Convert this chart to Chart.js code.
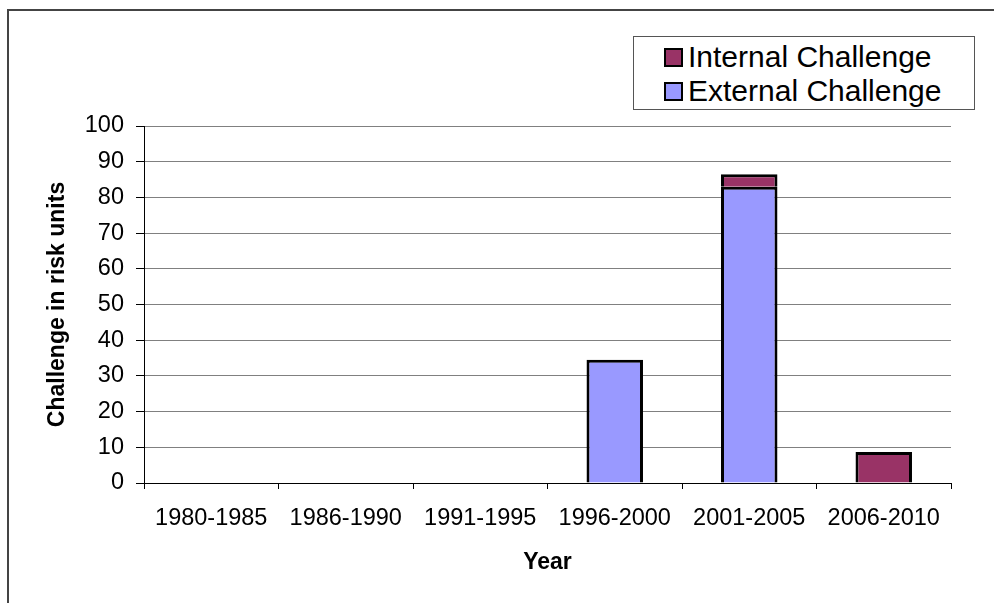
<!DOCTYPE html>
<html>
<head>
<meta charset="utf-8">
<script src="https://cdn.jsdelivr.net/npm/chart.js@4"></script>
<style>
  body { margin: 0; background: #fff; overflow: hidden; }
  #wrap { position: relative; width: 994px; height: 603px; }
  #frame { position: absolute; left: 7px; top: 9px; width: 1100px; height: 700px; border: 2px solid #444; border-right: none; border-bottom: none; }
  #chart-box { position: absolute; left: 0; top: 0; width: 994px; height: 603px; }
  #legend { position: absolute; left: 633px; top: 36px; width: 340px; height: 72px; border: 1px solid #555; background: #fff;
            font-family: "Liberation Sans", Arial, sans-serif; font-size: 30px; color: #000; }
  .leg-item { position: absolute; left: 30px; height: 34px; line-height: 34px; white-space: nowrap; }
  .leg-sw { display: inline-block; width: 15px; height: 15px; border: 2px solid #000; vertical-align: middle; margin-right: 5px; position: relative; top: -2px; }
</style>
</head>
<body>
<div id="wrap">
  <div id="frame"></div>
  <div id="chart-box"><canvas id="riskChart"></canvas></div>
  <div id="legend"></div>
</div>
<script>
// chart data
const categories = ['1980-1985', '1986-1990', '1991-1995', '1996-2000', '2001-2005', '2006-2010'];
const externalValues = [0, 0, 0, 34.5, 83, 0];
const internalValues = [0, 0, 0, 0, 3.5, 8.7];
const seriesNames = ['External Challenge', 'Internal Challenge'];
const seriesColors = ['#9999FF', '#993366'];

const fontFamily = '"Liberation Sans", Arial, sans-serif';

const ctx = document.getElementById('riskChart').getContext('2d');
const riskChart = new Chart(ctx, {
  type: 'bar',
  data: {
    labels: categories,
    datasets: [
      {
        label: seriesNames[0],
        data: externalValues,
        backgroundColor: seriesColors[0],
        borderColor: '#000',
        borderWidth: 3
      },
      {
        label: seriesNames[1],
        data: internalValues,
        backgroundColor: seriesColors[1],
        borderColor: '#000',
        borderWidth: 3
      }
    ]
  },
  options: {
    responsive: true,
    maintainAspectRatio: false,
    devicePixelRatio: 1,
    animation: false,
    layout: { padding: { top: 126, right: 43, bottom: 0, left: 0 } },
    datasets: { bar: { categoryPercentage: 1, barPercentage: 0.42 } },
    plugins: {
      legend: { display: false },
      tooltip: { enabled: false }
    },
    scales: {
      x: {
        stacked: true,
        grid: { drawOnChartArea: false, drawTicks: true, tickLength: 6, color: '#000', offset: true },
        border: { color: '#000', width: 1 },
        ticks: { color: '#000', padding: 15, maxRotation: 0, font: { family: fontFamily, size: 23.5 } },
        title: {
          display: true,
          text: 'Year',
          color: '#000',
          padding: { top: 0, bottom: 27 },
          font: { family: fontFamily, size: 23, weight: 'bold' }
        },
        afterFit: function (scale) { scale.height = 120; }
      },
      y: {
        stacked: true,
        min: 0,
        max: 100,
        grid: { color: '#808080', tickColor: '#000', tickLength: 8 },
        border: { color: '#000', width: 1 },
        ticks: { stepSize: 10, color: '#000', padding: 12, font: { family: fontFamily, size: 23.5 } },
        title: {
          display: true,
          text: 'Challenge in risk units',
          color: '#000',
          padding: { top: 44, bottom: 0 },
          font: { family: fontFamily, size: 23, weight: 'bold' }
        },
        afterFit: function (scale) { scale.width = 144; }
      }
    }
  }
});

// legend box, top series first like the original
function buildLegend(chart) {
  const box = document.getElementById('legend');
  box.innerHTML = '';
  const sets = chart.data.datasets.slice().reverse();
  sets.forEach((ds, i) => {
    const item = document.createElement('div');
    item.className = 'leg-item';
    item.style.top = (3 + i * 34) + 'px';
    item.innerHTML = `<span class="leg-sw" style="background:${ds.backgroundColor}"></span>${ds.label}`;
    box.appendChild(item);
  });
}
buildLegend(riskChart);
</script>
</body>
</html>
